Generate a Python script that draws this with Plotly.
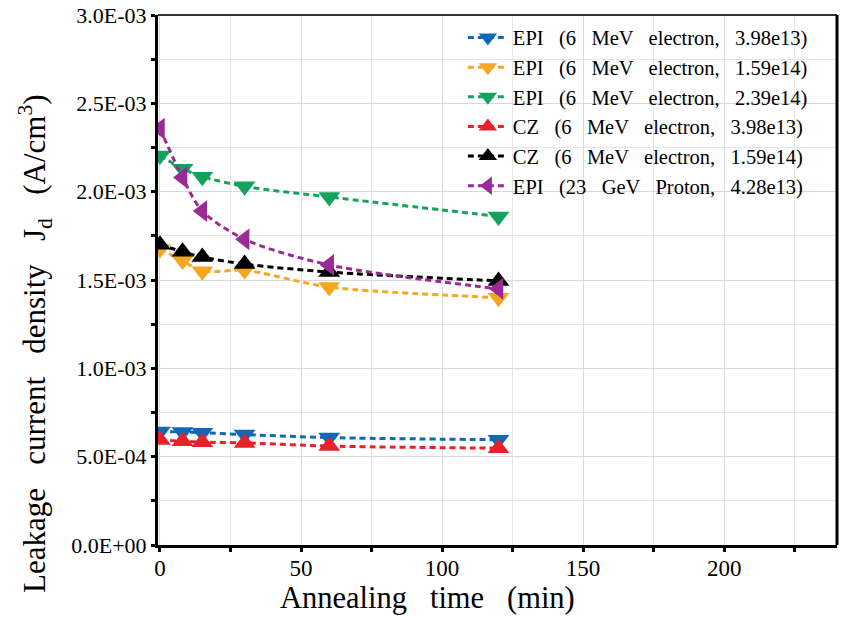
import plotly.graph_objects as go

time_min = [0, 8, 15, 30, 60, 120]

series_names = [
    "EPI (6 MeV electron, 3.98e13)",
    "EPI (6 MeV electron, 1.59e14)",
    "EPI (6 MeV electron, 2.39e14)",
    "CZ (6 MeV electron, 3.98e13)",
    "CZ (6 MeV electron, 1.59e14)",
    "EPI (23 GeV Proton, 4.28e13)",
]
epi_398e13 = [6.42e-4, 6.40e-4, 6.36e-4, 6.25e-4, 6.08e-4, 5.96e-4]
epi_159e14 = [1.675e-3, 1.61e-3, 1.55e-3, 1.555e-3, 1.46e-3, 1.40e-3]
epi_239e14 = [2.205e-3, 2.13e-3, 2.085e-3, 2.03e-3, 1.97e-3, 1.86e-3]
cz_398e13 = [5.95e-4, 5.87e-4, 5.82e-4, 5.78e-4, 5.60e-4, 5.48e-4]
cz_159e14 = [1.70e-3, 1.66e-3, 1.63e-3, 1.59e-3, 1.545e-3, 1.495e-3]
epi_p_428e13 = [2.357e-3, 2.08e-3, 1.89e-3, 1.73e-3, 1.585e-3, 1.45e-3]

series_values = [epi_398e13, epi_159e14, epi_239e14, cz_398e13, cz_159e14, epi_p_428e13]
colors = ["#1068B8", "#F7A623", "#14A35C", "#E8202A", "#000000", "#9A2A96"]
symbols = ["triangle-down", "triangle-down", "triangle-down", "triangle-up", "triangle-up", "triangle-left"]

y_tickvals = [0, 5e-4, 1e-3, 1.5e-3, 2e-3, 2.5e-3, 3e-3]
y_ticktext = ["0.0E+00", "5.0E-04", "1.0E-03", "1.5E-03", "2.0E-03", "2.5E-03", "3.0E-03"]
x_tickvals = [0, 50, 100, 150, 200]

x_title = "Annealing time (min)"
y_title = "Leakage current density J<sub>d</sub> (A/cm<sup>3</sup>)"

FONT = "Liberation Serif, Times New Roman, serif"
NB = "\u00a0"


def spaced(text, n):
    # widen word gaps like the reference typesetting
    return text.replace(" ", " " + NB * n)


fig = go.Figure()
for name, vals, c, s in zip(series_names, series_values, colors, symbols):
    fig.add_trace(go.Scatter(
        x=time_min, y=vals, name=spaced(name, 2), mode="lines+markers",
        line=dict(color=c, width=3, dash="6px,4px", shape="spline", smoothing=0.8),
        marker=dict(symbol=s, size=19, color=c),
    ))

fig.update_layout(
    width=845, height=617,
    margin=dict(l=158, r=8, t=15, b=72),
    paper_bgcolor="white", plot_bgcolor="white",
    font=dict(family=FONT, color="black"),
    showlegend=True,
    legend=dict(
        x=0.449, y=0.995, xanchor="left", yanchor="top",
        bgcolor="rgba(0,0,0,0)", font=dict(size=20.5, family=FONT),
        tracegroupgap=0, itemwidth=40,
    ),
    xaxis=dict(
        range=[-0.7, 240], tickvals=x_tickvals, ticktext=[str(v) for v in x_tickvals],
        showgrid=True, gridcolor="#d9d9d9", gridwidth=1, automargin=False,
        minor=dict(dtick=25, tick0=0, showgrid=True, gridcolor="#e6e6e6", ticks="outside",
                   ticklen=4, tickwidth=3, tickcolor="black"),
        showline=True, linecolor="black", linewidth=3,
        ticks="outside", ticklen=4, tickwidth=3, tickcolor="black",
        tickfont=dict(size=23, family=FONT), zeroline=False,
        ticklabelstandoff=-4,
    ),
    yaxis=dict(
        range=[0, 3.0e-3], tickvals=y_tickvals, ticktext=y_ticktext,
        showgrid=True, gridcolor="#d9d9d9", gridwidth=1, automargin=False,
        minor=dict(dtick=2.5e-4, tick0=0, showgrid=True, gridcolor="#e6e6e6", ticks="outside",
                   ticklen=4, tickwidth=3, tickcolor="black"),
        showline=True, linecolor="black", linewidth=3,
        ticks="outside", ticklen=4, tickwidth=3, tickcolor="black",
        tickfont=dict(size=22, family=FONT), zeroline=False,
    ),
)

# top and right frame lines
fig.add_shape(type="line", xref="x domain", yref="y domain", x0=0, x1=1, y0=1, y1=1,
              line=dict(color="#333333", width=2))
fig.add_shape(type="line", xref="x domain", yref="y domain", x0=1, x1=1, y0=0, y1=1,
              line=dict(color="black", width=3))

# axis titles
fig.add_annotation(text=spaced(x_title, 2), xref="paper", yref="paper",
                   x=(427 - 158) / 679, y=-(598 - 545) / 530, xanchor="center", yanchor="middle",
                   showarrow=False, font=dict(size=30.5, family=FONT))
fig.add_annotation(text=spaced(y_title, 2),
                   xref="paper", yref="paper", textangle=-90,
                   x=(35 - 158) / 679, y=(545 - 344) / 530, xanchor="center", yanchor="middle",
                   showarrow=False, font=dict(size=31, family=FONT))

fig.write_html("out.html", config={"displayModeBar": False},
               post_script="document.body.style.margin='0';")
